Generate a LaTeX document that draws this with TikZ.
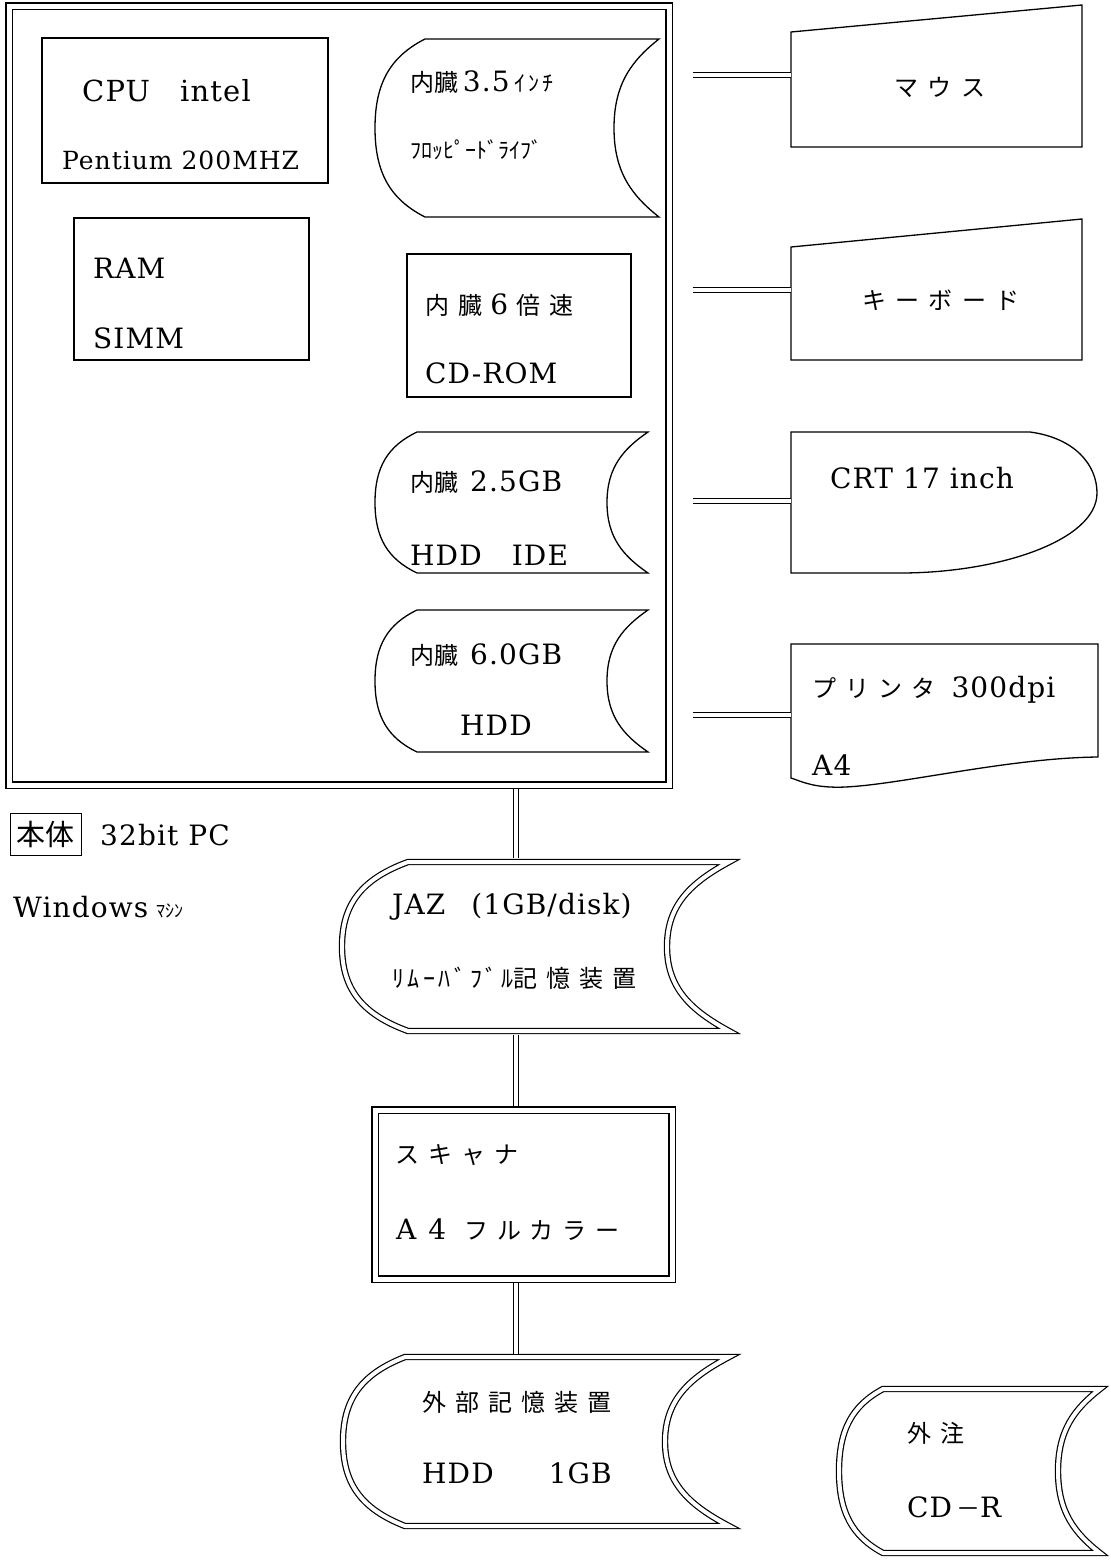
\documentclass[tikz,border=0pt]{standalone}
\usepackage{fontspec}
\setmainfont{DejaVu Serif}[LetterSpace=4]
\newfontfamily\jpfont{Noto Sans CJK JP}[LetterSpace=38]
\newfontfamily\jpmid{Noto Sans CJK JP}[LetterSpace=15]
\newfontfamily\jptight{Noto Sans CJK JP}
\newcommand{\jp}[1]{{\jpfont\fontsize{24}{28}\selectfont #1}}
\newcommand{\jt}[1]{{\jptight\fontsize{24}{28}\selectfont #1}}
\newcommand{\drum}[6]{({#1+#5},#3) -- (#2,#3)
    .. controls ({#2-0.6*#6},{#3+0.12*(#4-#3)}) and ({#2-#6},{#3+0.25*(#4-#3)}) .. ({#2-#6},{(#3+#4)/2})
    .. controls ({#2-#6},{#4-0.25*(#4-#3)}) and ({#2-0.6*#6},{#4-0.12*(#4-#3)}) .. (#2,#4)
    -- ({#1+#5},#4)
    .. controls ({#1+0.3*#5},{#4-0.1*(#4-#3)}) and (#1,{#4-0.25*(#4-#3)}) .. (#1,{(#3+#4)/2})
    .. controls (#1,{#3+0.25*(#4-#3)}) and ({#1+0.3*#5},{#3+0.1*(#4-#3)}) .. ({#1+#5},#3) -- cycle}
\tikzset{
    link/.style={line width=1.1pt,double,double distance=3.5pt},
    dstore/.style={line width=1.2pt,double,double distance=4pt}
}

\begin{document}
\begin{tikzpicture}[x=1pt,y=-1pt]
        \useasboundingbox (0,0) rectangle (1111,1561);

        \begin{scope}[every node/.append style={draw,line width=1.3pt,inner sep=0pt}]
            \node [minimum width=286, minimum height=145] (cpu) at (185,110.5) {};
            \node [minimum width=235, minimum height=142] (ram) at (191.5,289) {};
            \node [minimum width=224, minimum height=143] (cdrom) at (519,325.5) {};
            \node [minimum width=71, minimum height=42, line width=1pt, font=\jptight\fontsize{29}{30}\selectfont] (honntai) at (45.5,834) {本体};
        \end{scope}

        \begin{scope}[every node/.append style={draw,double,double distance=5pt,line width=1.4pt,inner sep=0pt}]
            \node [minimum width=660, minimum height=779] (body) at (339,395.5) {};
            \node [minimum width=297, minimum height=169] (scan) at (523.5,1194.5) {};
        \end{scope}

        \begin{scope}[line width=1.3pt]
            \draw \drum{375}{659}{39}{217}{50}{45};
            \draw \drum{375}{648}{432}{573}{42}{41};
            \draw \drum{375}{648}{610}{752}{42}{41};
            \draw (791,32) -- (1082,5) -- (1082,147) -- (791,147) -- cycle;
            \draw (791,247) -- (1082,219) -- (1082,360) -- (791,360) -- cycle;
            \draw (791,573) -- (791,432) -- (1030,432) .. controls (1075,438) and (1097,465) .. (1097,493)
                .. controls (1097,540) and (1000,573) .. (900,573) -- cycle;
            \draw (791,778) -- (791,644) -- (1098,644) -- (1098,757) .. controls (1000,758) and (880,790) .. (830,787)
                .. controls (810,786) and (800,781) .. (791,778) -- cycle;
        \end{scope}

        \draw [dstore] \drum{342}{729}{862}{1031}{66}{62};
        \draw [dstore] \drum{343}{729}{1357}{1526}{62}{64};
        \draw [dstore] \drum{839}{1100}{1389}{1553}{44}{42};

        \coordinate (mousein) at (791,75);
        \coordinate (kbdin) at (791,290);
        \coordinate (crtin) at (791,501);
        \coordinate (prnin) at (791,715);
        \coordinate (jaztop) at (516,858);
        \coordinate (jazbot) at (516,1035);
        \coordinate (exttop) at (516,1354);

        \draw [link, shorten <=23pt] (body.east |- mousein) -- (mousein);
        \draw [link, shorten <=23pt] (body.east |- kbdin) -- (kbdin);
        \draw [link, shorten <=23pt] (body.east |- crtin) -- (crtin);
        \draw [link, shorten <=23pt] (body.east |- prnin) -- (prnin);
        \draw [link, shorten <=3.5pt] (body.south -| jaztop) -- (jaztop);
        \draw [link, shorten >=3.5pt] (jazbot) -- (scan.north -| jazbot);
        \draw [link, shorten <=3.5pt] (scan.south -| exttop) -- (exttop);

        \begin{scope}[every node/.append style={anchor=west,inner sep=0pt,font=\fontsize{28}{32}\selectfont}]
            \node (cpua) at (82,91) {\fontsize{29}{32}\selectfont CPU\hspace{30pt}intel};
            \node (cpub) at (62,160) {\fontsize{25}{30}\selectfont Pentium 200MHZ};
            \node (rama) at (93,268) {RAM};
            \node (ramb) at (93,338) {SIMM};
            \node (fdda) at (410,82) {\jt{内臓}\,3.5\,{\jpmid\fontsize{22}{25}\selectfont ｲﾝﾁ}};
            \node (fddb) at (410,150) {\jptight\fontsize{22}{25}\selectfont ﾌﾛｯﾋﾟｰﾄﾞﾗｲﾌﾞ};
            \node (cda) at (425,305) {\jp{内臓}\hspace{8pt}6\hspace{8pt}\jp{倍速}};
            \node (cdb) at (425,373) {CD-ROM};
            \node (hdda) at (410,482) {\jt{内臓}\hspace{12pt}2.5GB};
            \node (hddb) at (410,555) {HDD\hspace{30pt}IDE};
            \node (hddc) at (410,655) {\jt{内臓}\hspace{12pt}6.0GB};
            \node (hddd) at (460,725) {HDD};
            \node [anchor=center] (mouse) at (940,87) {\jp{マウス}};
            \node [anchor=center] (kbd) at (941,300) {\jp{キーボード}};
            \node (crt) at (830,478) {CRT 17 inch};
            \node (prna) at (812,690) {\jp{プリンタ}\hspace{16pt}300dpi};
            \node (prnb) at (812,765) {A4};
            \node (pca) at (100,835) {32bit PC};
            \node (wina) at (13,907) {Windows\hspace{8pt}{\jptight\fontsize{18}{20}\selectfont ﾏｼﾝ}};
            \node (jaza) at (392,907) {JAZ\hspace{26pt}(1GB/disk)};
            \node (jazb) at (392,978) {{\jpmid\fontsize{24}{28}\selectfont ﾘﾑｰﾊﾞﾌﾞﾙ}\jp{記憶装置}};
            \node (scana) at (395,1155) {\jp{スキャナ}};
            \node (scanb) at (396,1230) {A\hspace{12pt}4\hspace{18pt}\jp{フルカラー}};
            \node (exta) at (422,1402) {\jp{外部記憶装置}};
            \node (extb) at (422,1473) {HDD\hspace{55pt}1GB};
            \node (cdra) at (907,1433) {\jp{外注}};
            \node (cdrb) at (907,1507) {CD\hspace{4pt}\jp{－}R};
        \end{scope}
    \end{tikzpicture}
\end{document}
